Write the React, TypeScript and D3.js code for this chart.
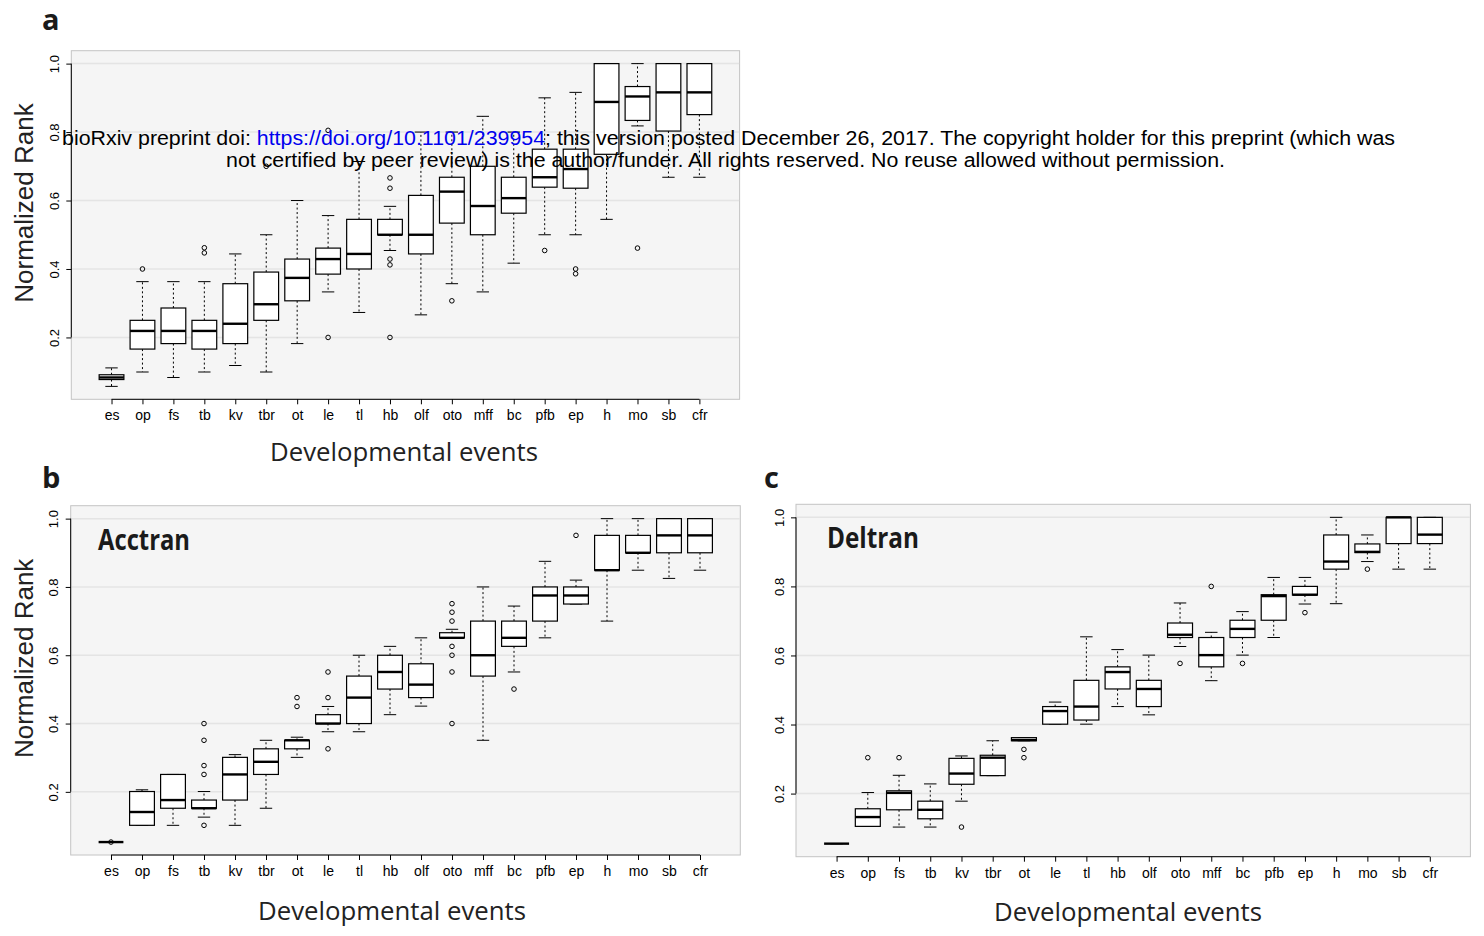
import React, { useEffect, useRef } from "react";
import * as d3 from "d3";

const categories = ["es", "op", "fs", "tb", "kv", "tbr", "ot", "le", "tl", "hb", "olf", "oto", "mff", "bc", "pfb", "ep", "h", "mo", "sb", "cfr"];
const yTicks = [0.2, 0.4, 0.6, 0.8, 1.0];

// box stats per event: [lower whisker, q1, median, q3, upper whisker]
const allStats = [
  [0.057, 0.077, 0.083, 0.091, 0.111],
  [0.099, 0.166, 0.219, 0.25, 0.363],
  [0.083, 0.182, 0.219, 0.286, 0.363],
  [0.099, 0.166, 0.219, 0.25, 0.363],
  [0.118, 0.182, 0.24, 0.357, 0.444],
  [0.099, 0.25, 0.297, 0.391, 0.5],
  [0.182, 0.307, 0.374, 0.429, 0.6],
  [0.333, 0.385, 0.429, 0.461, 0.556],
  [0.273, 0.4, 0.444, 0.545, 0.714],
  [0.454, 0.5, 0.5, 0.545, 0.583],
  [0.266, 0.444, 0.5, 0.615, 0.8],
  [0.357, 0.534, 0.626, 0.668, 0.8],
  [0.333, 0.5, 0.584, 0.7, 0.846],
  [0.417, 0.563, 0.607, 0.668, 0.8],
  [0.5, 0.639, 0.668, 0.75, 0.9],
  [0.5, 0.636, 0.692, 0.75, 0.916],
  [0.545, 0.735, 0.888, 1.0, 1.0],
  [0.818, 0.834, 0.904, 0.933, 1.0],
  [0.668, 0.803, 0.916, 1.0, 1.0],
  [0.668, 0.851, 0.916, 1.0, 1.0],
];
const allOutliers = [[], [0.4], [], [0.462, 0.447], [], [0.7], [], [0.2, 0.805], [], [0.666, 0.636, 0.429, 0.412, 0.2], [], [0.307], [], [], [0.454], [0.4, 0.386], [], [0.461], [], []];

const acctranStats = [
  [0.053, 0.053, 0.053, 0.053, 0.053],
  [0.102, 0.102, 0.141, 0.201, 0.206],
  [0.102, 0.152, 0.176, 0.251, 0.251],
  [0.126, 0.152, 0.152, 0.176, 0.201],
  [0.102, 0.176, 0.251, 0.301, 0.309],
  [0.152, 0.251, 0.288, 0.326, 0.351],
  [0.301, 0.326, 0.351, 0.351, 0.36],
  [0.376, 0.4, 0.4, 0.426, 0.45],
  [0.376, 0.4, 0.476, 0.539, 0.6],
  [0.426, 0.501, 0.551, 0.6, 0.626],
  [0.451, 0.476, 0.514, 0.575, 0.651],
  [0.651, 0.651, 0.651, 0.666, 0.676],
  [0.351, 0.539, 0.6, 0.7, 0.8],
  [0.551, 0.626, 0.651, 0.7, 0.744],
  [0.651, 0.7, 0.775, 0.8, 0.875],
  [0.75, 0.75, 0.775, 0.8, 0.82],
  [0.7, 0.849, 0.849, 0.951, 1.0],
  [0.849, 0.9, 0.9, 0.951, 1.0],
  [0.825, 0.9, 0.951, 1.0, 1.0],
  [0.849, 0.9, 0.951, 1.0, 1.0],
];
const acctranOutliers = [[0.053], [], [], [0.4, 0.351, 0.277, 0.251, 0.102], [], [], [0.476, 0.45], [0.551, 0.476, 0.326], [], [], [], [0.751, 0.726, 0.7, 0.626, 0.6, 0.551, 0.4], [], [0.501], [], [0.951], [], [], [], []];

const deltranStats = [
  [0.055, 0.055, 0.055, 0.055, 0.055],
  [0.105, 0.105, 0.132, 0.156, 0.203],
  [0.103, 0.153, 0.202, 0.208, 0.253],
  [0.103, 0.127, 0.153, 0.178, 0.228],
  [0.178, 0.227, 0.258, 0.302, 0.309],
  [0.252, 0.252, 0.304, 0.311, 0.353],
  [0.353, 0.353, 0.355, 0.362, 0.362],
  [0.401, 0.401, 0.439, 0.452, 0.465],
  [0.401, 0.413, 0.452, 0.528, 0.654],
  [0.452, 0.503, 0.552, 0.567, 0.617],
  [0.428, 0.452, 0.503, 0.528, 0.601],
  [0.626, 0.652, 0.66, 0.694, 0.752],
  [0.527, 0.567, 0.601, 0.652, 0.667],
  [0.601, 0.652, 0.677, 0.702, 0.727],
  [0.652, 0.702, 0.772, 0.776, 0.826],
  [0.749, 0.775, 0.776, 0.8, 0.826],
  [0.75, 0.85, 0.872, 0.949, 1.0],
  [0.872, 0.898, 0.9, 0.923, 0.949],
  [0.85, 0.924, 1.0, 1.0, 1.0],
  [0.85, 0.924, 0.95, 1.0, 1.0],
];
const deltranOutliers = [[], [0.304], [0.304], [], [0.103], [], [0.328, 0.304], [], [], [], [], [0.577], [0.8], [0.577], [], [0.724], [], [0.85], [], []];

const R_FONT = "'Liberation Sans', Arial, sans-serif";
const MYRIAD = "'Open Sans', sans-serif";

const panels = [
  { frame: { left: 71.3, right: 739.6, top: 50.7, bottom: 399.3 }, stats: allStats, outliers: allOutliers, yLabel: true, xLabelX: 404, xLabelY: 461, title: null, titleX: 0 },
  { frame: { left: 70.7, right: 740.3, top: 505.7, bottom: 855 }, stats: acctranStats, outliers: acctranOutliers, yLabel: true, xLabelX: 392, xLabelY: 920, title: "Acctran", titleX: 98 },
  { frame: { left: 796, right: 1470.4, top: 504.3, bottom: 856.7 }, stats: deltranStats, outliers: deltranOutliers, yLabel: false, xLabelX: 1128, xLabelY: 921, title: "Deltran", titleX: 827 },
];

function drawPanel(g, p) {
  const { left, right, top, bottom } = p.frame;
  const n = categories.length;
  const x = d3.scaleLinear().domain([-0.3, n + 1.3]).range([left, right]);
  const vals = p.stats.flat().concat(p.outliers.flat());
  const lo = d3.min(vals);
  const hi = d3.max(vals);
  const pad = (hi - lo) * 0.04;
  const y = d3.scaleLinear().domain([lo - pad, hi + pad]).range([bottom, top]);

  g.append("rect")
    .attr("x", left).attr("y", top)
    .attr("width", right - left).attr("height", bottom - top)
    .attr("fill", "#f5f5f5").attr("stroke", "#c4c4c4");

  g.selectAll(".grid").data(yTicks).enter().append("line")
    .attr("x1", left + 0.5).attr("x2", right - 0.5)
    .attr("y1", (d) => y(d)).attr("y2", (d) => y(d))
    .attr("stroke", "#e4e4e4").attr("stroke-width", 1.5);

  // y axis, R style: line only from first to last tick, labels parallel
  const yAxis = g.append("g")
    .attr("transform", `translate(${left},0)`)
    .call(d3.axisLeft(y).tickValues(yTicks).tickSize(5).tickFormat(d3.format(".1f")));
  yAxis.select(".domain").remove();
  yAxis.append("line").attr("y1", y(0.2)).attr("y2", y(1)).attr("stroke", "#000");
  yAxis.attr("font-family", R_FONT).attr("font-size", 13);
  yAxis.selectAll(".tick text")
    .attr("x", 0).attr("dy", 0)
    .attr("transform", "translate(-12.5,0) rotate(-90)")
    .attr("text-anchor", "middle").attr("fill", "#000");

  const xAxis = g.append("g")
    .attr("transform", `translate(0,${bottom})`)
    .call(d3.axisBottom(x).tickValues(d3.range(1, n + 1)).tickSize(5).tickFormat((i) => categories[i - 1]));
  xAxis.select(".domain").remove();
  xAxis.append("line").attr("x1", x(1)).attr("x2", x(n)).attr("stroke", "#000");
  xAxis.attr("font-family", R_FONT).attr("font-size", 14);
  xAxis.selectAll(".tick text").attr("y", 21).attr("dy", 0).attr("fill", "#000");

  const bw = (x(1) - x(0)) * 0.8;
  const boxes = g.selectAll(".box").data(p.stats).enter().append("g")
    .attr("transform", (d, i) => `translate(${x(i + 1)},0)`);

  boxes.append("line").attr("y1", (d) => y(d[3])).attr("y2", (d) => y(d[4]))
    .attr("stroke", "#000").attr("stroke-dasharray", "2,2.5");
  boxes.append("line").attr("y1", (d) => y(d[1])).attr("y2", (d) => y(d[0]))
    .attr("stroke", "#000").attr("stroke-dasharray", "2,2.5");
  boxes.append("line").attr("x1", -bw / 4).attr("x2", bw / 4)
    .attr("y1", (d) => y(d[4])).attr("y2", (d) => y(d[4])).attr("stroke", "#000");
  boxes.append("line").attr("x1", -bw / 4).attr("x2", bw / 4)
    .attr("y1", (d) => y(d[0])).attr("y2", (d) => y(d[0])).attr("stroke", "#000");
  boxes.append("rect")
    .attr("x", -bw / 2).attr("width", bw)
    .attr("y", (d) => y(d[3])).attr("height", (d) => y(d[1]) - y(d[3]))
    .attr("fill", "#fff").attr("stroke", "#000").attr("stroke-width", 1.2);
  boxes.append("line").attr("x1", -bw / 2).attr("x2", bw / 2)
    .attr("y1", (d) => y(d[2])).attr("y2", (d) => y(d[2]))
    .attr("stroke", "#000").attr("stroke-width", 2.4);

  p.outliers.forEach((os, i) => {
    g.selectAll(null).data(os).enter().append("circle")
      .attr("cx", x(i + 1)).attr("cy", (d) => y(d)).attr("r", 2.3)
      .attr("fill", "none").attr("stroke", "#000").attr("stroke-width", 1);
  });

  if (p.yLabel) {
    g.append("text")
      .attr("transform", `translate(33,${(top + bottom) / 2 - 22}) rotate(-90)`)
      .attr("text-anchor", "middle")
      .attr("font-family", R_FONT).attr("font-size", 26).attr("fill", "#222")
      .text("Normalized Rank");
  }
  g.append("text")
    .attr("x", p.xLabelX).attr("y", p.xLabelY)
    .attr("text-anchor", "middle")
    .attr("font-family", MYRIAD).attr("font-size", 25).attr("fill", "#222")
    .attr("textLength", 268).attr("lengthAdjust", "spacingAndGlyphs")
    .text("Developmental events");
  if (p.title) {
    g.append("text")
      .attr("x", p.titleX).attr("y", top + 44)
      .attr("font-family", MYRIAD).attr("font-weight", 700).attr("font-size", 28).attr("fill", "#1a1a1a")
      .attr("textLength", 92).attr("lengthAdjust", "spacingAndGlyphs")
      .text(p.title);
  }
}

const App = () => {
  const svgRef = useRef(null);

  useEffect(() => {
    const svg = d3.select(svgRef.current);
    svg.selectAll("*").remove();
    panels.forEach((p) => drawPanel(svg.append("g"), p));

    const letters = [["a", 42, 30], ["b", 42, 488], ["c", 764, 488]];
    svg.selectAll(".letter").data(letters).enter().append("text")
      .attr("x", (d) => d[1]).attr("y", (d) => d[2])
      .attr("font-family", MYRIAD).attr("font-weight", 700).attr("font-size", 29).attr("fill", "#1a1a1a")
      .text((d) => d[0]);

    const note = svg.append("g").attr("font-family", R_FONT).attr("font-size", 20).attr("fill", "#000");
    const l1 = note.append("text").attr("x", 728.5).attr("y", 145).attr("text-anchor", "middle")
      .attr("textLength", 1333).attr("lengthAdjust", "spacingAndGlyphs");
    l1.append("tspan").text("bioRxiv preprint doi: ");
    l1.append("tspan").attr("fill", "#0000ee").text("https://doi.org/10.1101/239954");
    l1.append("tspan").text("; this version posted December 26, 2017. The copyright holder for this preprint (which was");
    note.append("text").attr("x", 725.5).attr("y", 167).attr("text-anchor", "middle")
      .attr("textLength", 999).attr("lengthAdjust", "spacingAndGlyphs")
      .text("not certified by peer review) is the author/funder. All rights reserved. No reuse allowed without permission.");
  }, []);

  return (
    <svg ref={svgRef} width={1484} height={936}
      style={{ position: "absolute", left: 0, top: 0, background: "#fff" }} />
  );
};

export default App;
